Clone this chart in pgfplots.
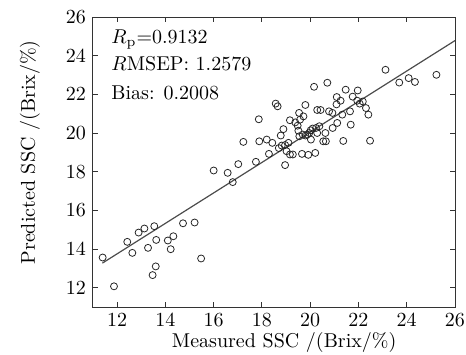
\documentclass[border=0pt]{standalone}
\usepackage{pgfplots}
\pgfplotsset{compat=1.18}
\begin{document}
\fontsize{10}{12}\selectfont
\begin{tikzpicture}
\path[use as bounding box] (-46.5pt,-23.5pt) rectangle (186.5pt,153.5pt);
\begin{axis}[
  at={(0,0)}, anchor=south west,
  width=181pt, height=145pt, scale only axis,
  xmin=11, xmax=26, ymin=11, ymax=26,
  xtick={12,14,...,26}, ytick={12,14,...,26},
  tick align=inside, major tick length=2.5pt,
  xtick pos=both, ytick pos=both,
  axis line style={black!80, line width=0.5pt},
  tick style={black!80, line width=0.5pt},
  tick label style={font=\fontsize{10}{12}\selectfont},
  label style={font=\fontsize{10}{12}\selectfont},
  xlabel={Measured SSC /(Brix/\%)},
  ylabel={Predicted SSC /(Brix/\%)},
  xlabel style={at={(axis description cs:0.528,0)}, anchor=base, yshift=-20pt},
  ylabel style={at={([xshift=-31.5pt]axis description cs:0,0.533)}, anchor=center},
  clip=true,
]
\addplot[only marks, mark=o, mark size=1.75pt, mark options={line width=0.4pt, draw=black!85}] coordinates {
(11.40,13.56) (11.87,12.07) (12.42,14.37) (12.63,13.80) (12.89,14.85)
(13.13,15.06) (13.28,14.06) (13.54,15.18) (13.62,14.47) (13.60,13.10)
(13.47,12.65) (14.10,14.44) (14.22,13.99) (14.33,14.66) (14.73,15.33)
(15.21,15.37) (15.48,13.51) (16.00,18.06) (16.58,17.94) (16.79,17.46)
(17.02,18.39) (17.23,19.54) (17.75,18.51) (17.87,20.71) (17.89,19.57)
(18.20,19.66) (18.29,18.92) (18.43,19.49) (18.57,21.52) (18.65,21.38)
(18.70,19.22) (18.78,19.87) (18.82,19.35) (18.89,20.20) (18.96,19.38)
(18.96,18.34) (19.02,19.06) (19.10,19.49) (19.16,20.66) (19.16,18.89)
(19.28,18.89) (19.38,20.55) (19.48,20.38) (19.51,20.12) (19.54,21.04)
(19.58,20.69) (19.55,19.83) (19.66,18.92) (19.69,19.92) (19.72,20.86)
(19.80,21.45) (19.80,19.87) (19.88,19.92) (19.92,18.87) (19.96,20.00)
(20.02,20.14) (20.03,19.66) (20.10,20.23) (20.16,22.39) (20.21,18.97)
(20.24,20.26) (20.29,20.00) (20.29,21.19) (20.38,20.35) (20.43,21.19)
(20.54,19.57) (20.63,20.00) (20.65,19.57) (20.71,22.60) (20.78,21.12)
(20.92,21.04) (20.93,20.26) (21.09,21.48) (21.10,21.86) (21.12,20.52)
(21.26,21.67) (21.33,20.95) (21.37,19.59) (21.47,22.24) (21.65,21.12)
(21.68,20.43) (21.76,21.88) (21.95,21.67) (21.97,22.20) (22.05,21.52)
(22.18,21.63) (22.31,21.29) (22.41,20.95) (22.48,19.60) (23.12,23.27)
(23.69,22.61) (24.08,22.84) (24.34,22.64) (25.23,23.01)
};
\addplot[black!70, line width=0.6pt] coordinates {(11.39,13.27) (26,24.78)};
\node[anchor=base west, inner sep=0pt] at (rel axis cs:0.05,0.910) {$R_{\mathrm{p}}$=0.9132};
\node[anchor=base west, inner sep=0pt] at (rel axis cs:0.05,0.814) {$R$MSEP: 1.2579};
\node[anchor=base west, inner sep=0pt] at (rel axis cs:0.05,0.717) {Bias: 0.2008};
\end{axis}
\end{tikzpicture}
\end{document}
